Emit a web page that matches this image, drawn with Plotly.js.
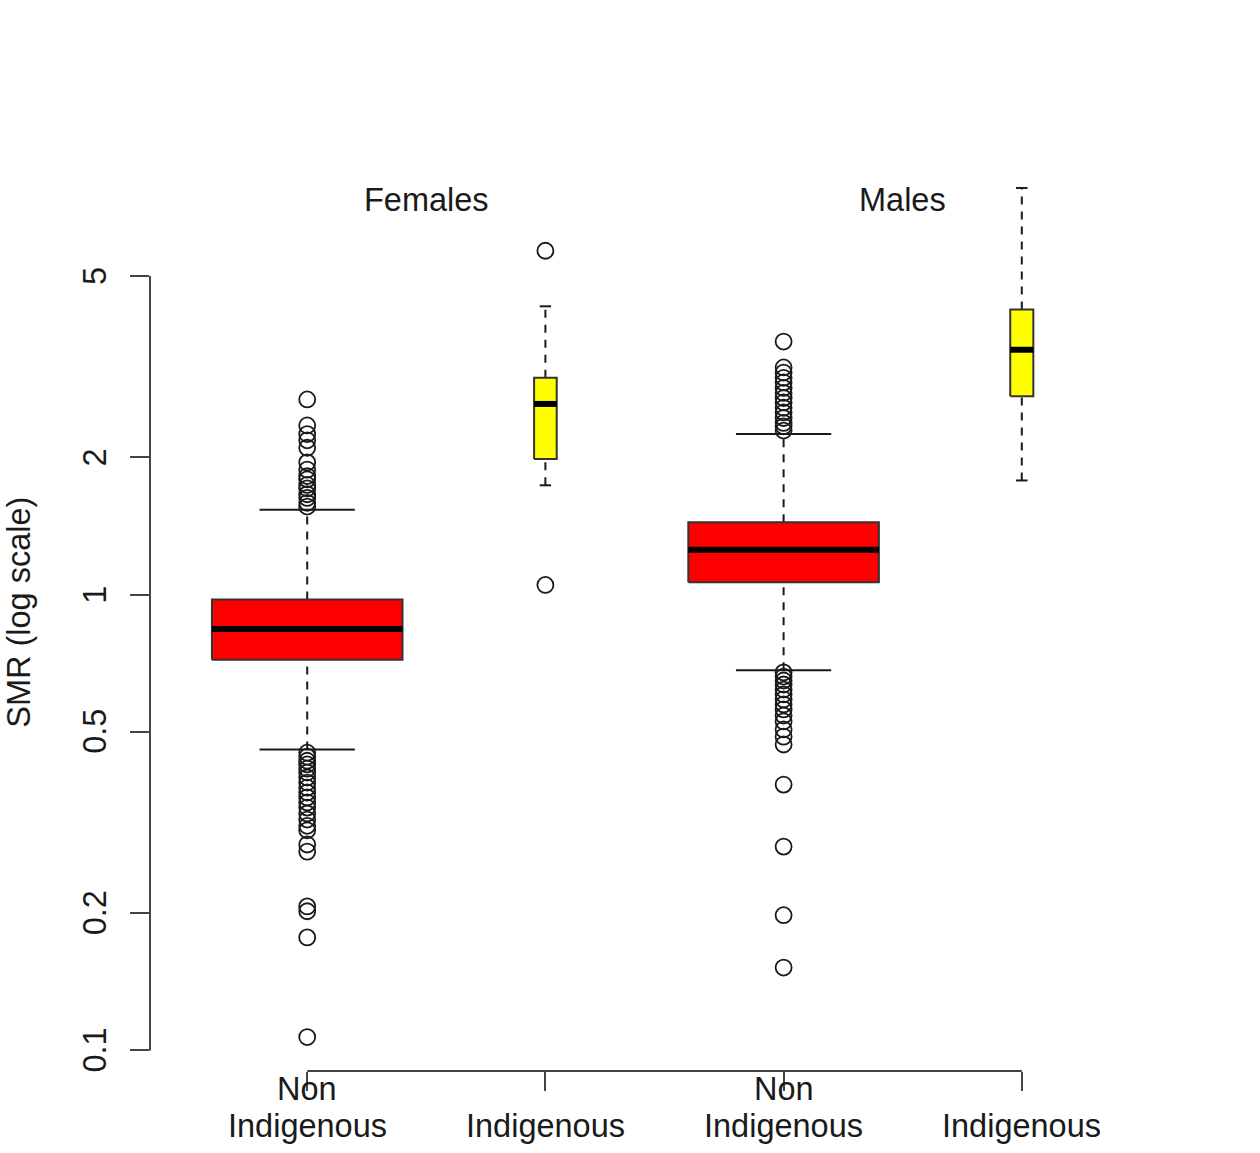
<!DOCTYPE html>
<html>
<head>
<meta charset="utf-8">
<script src="https://cdn.plot.ly/plotly-3.0.1.min.js"></script>
<style>
  html, body { margin: 0; padding: 0; background: #ffffff; }
  #chart { width: 1260px; height: 1153px; }
</style>
</head>
<body>
<div id="chart"></div>
<script>
// ---- data: SMR by sex and Indigenous status (log scale) ----
const groupTitles = ["Females", "Males"];
const categories = ["Non<br>Indigenous", "Indigenous", "Non<br>Indigenous", "Indigenous"];
const yTickValues = [0.1, 0.2, 0.5, 1, 2, 5];
const yTickLabels = ["0.1", "0.2", "0.5", "1", "2", "5"];

const lowerWhisker = [0.457, 1.737, 0.682, 1.78];
const lowerQuartile = [0.720, 1.984, 1.064, 2.722];
const medians = [0.841, 2.62, 1.255, 3.445];
const upperQuartile = [0.975, 2.99, 1.441, 4.22];
const upperWhisker = [1.536, 4.29, 2.252, 7.8];

const outliersFemaleNonIndigenous = [
  2.68, 2.35, 2.25, 2.18, 2.10, 1.95, 1.88, 1.82, 1.79, 1.74, 1.71, 1.66, 1.63, 1.59, 1.56,
  0.450, 0.441, 0.432, 0.424, 0.415, 0.407, 0.397, 0.387, 0.377, 0.368, 0.359, 0.350,
  0.341, 0.331, 0.321, 0.311, 0.304, 0.283, 0.273, 0.207, 0.202, 0.177, 0.107
];
const outliersFemaleIndigenous = [5.68, 1.05];
const outliersMaleNonIndigenous = [
  3.59, 3.15, 3.07, 2.99, 2.92, 2.84, 2.77, 2.70, 2.64, 2.57, 2.51, 2.44, 2.38, 2.34, 2.29,
  0.675, 0.661, 0.648, 0.635, 0.619, 0.604, 0.589, 0.574, 0.560, 0.543, 0.527, 0.506,
  0.488, 0.469, 0.383, 0.280, 0.198, 0.152
];
const outliersMaleIndigenous = [];

// ---- styling ----
const boxFill = ["#ff0000", "#ffff00", "#ff0000", "#ffff00"];
const boxWidths = [0.8, 0.095, 0.8, 0.097];   // varwidth-style box widths (x units)
const capRatio = 0.5;                          // staple width relative to box
const ink = "#1a1a1a";
const axisInk = "#444444";
const fontFamily = "'Liberation Sans', Arial, Helvetica, sans-serif";
const fontSize = 32.5;

const outlierSets = [outliersFemaleNonIndigenous, outliersFemaleIndigenous,
                     outliersMaleNonIndigenous, outliersMaleIndigenous];

const traces = [];
categories.forEach((cat, i) => {
  const p = i + 1;
  const hw = boxWidths[i] / 2;
  const cw = hw * capRatio;
  // dashed whiskers
  traces.push({
    type: "scatter", mode: "lines", hoverinfo: "skip", showlegend: false,
    x: [p, p, null, p, p],
    y: [lowerWhisker[i], lowerQuartile[i], null, upperQuartile[i], upperWhisker[i]],
    line: { color: ink, width: 2, dash: "8px,7px" }
  });
  // staples
  traces.push({
    type: "scatter", mode: "lines", hoverinfo: "skip", showlegend: false,
    x: [p - cw, p + cw, null, p - cw, p + cw],
    y: [lowerWhisker[i], lowerWhisker[i], null, upperWhisker[i], upperWhisker[i]],
    line: { color: ink, width: 2 }
  });
  // box
  traces.push({
    type: "scatter", mode: "lines", hoverinfo: "skip", showlegend: false,
    x: [p - hw, p + hw, p + hw, p - hw, p - hw],
    y: [lowerQuartile[i], lowerQuartile[i], upperQuartile[i], upperQuartile[i], lowerQuartile[i]],
    fill: "toself", fillcolor: boxFill[i],
    line: { color: "#333333", width: 2 }
  });
  // median
  traces.push({
    type: "scatter", mode: "lines", hoverinfo: "skip", showlegend: false,
    x: [p - hw, p + hw],
    y: [medians[i], medians[i]],
    line: { color: "#000000", width: 6 }
  });
  // outliers
  const out = outlierSets[i];
  if (out.length) {
    traces.push({
      type: "scatter", mode: "markers", hoverinfo: "y", showlegend: false,
      x: out.map(() => p), y: out,
      cliponaxis: false,
      marker: { symbol: "circle-open", size: 16, color: ink, line: { width: 1.8, color: ink } }
    });
  }
});

// y range: data extent widened by 4% on the log scale
const allVals = [].concat(lowerWhisker, upperWhisker, ...outlierSets);
const lo = Math.log10(Math.min(...allVals));
const hi = Math.log10(Math.max(...allVals));
const pad = (hi - lo) * 0.04;

const annotations = [];
groupTitles.forEach((t, g) => {
  annotations.push({
    text: t, xref: "x", yref: "paper", x: 2 * g + 1.5, y: 0.95,
    xanchor: "center", yanchor: "middle", showarrow: false,
    font: { family: fontFamily, size: fontSize, color: ink }
  });
});
// category labels: each line placed on its own row, last lines aligned
const lineRows = [-0.0818, -0.0414];
categories.forEach((c, i) => {
  const lines = c.split("<br>").reverse();
  lines.forEach((ln, k) => {
    annotations.push({
      text: ln, xref: "x", yref: "paper", x: i + 1, y: lineRows[k],
      xanchor: "center", yanchor: "bottom", showarrow: false,
      font: { family: fontFamily, size: fontSize, color: ink }
    });
  });
});
// y tick labels, parallel to the axis (annotation y on a log axis is log10)
yTickValues.forEach((v, k) => {
  annotations.push({
    text: yTickLabels[k], xref: "paper", yref: "y", x: -0.0534, y: Math.log10(v),
    xanchor: "center", yanchor: "middle", textangle: -90, showarrow: false,
    font: { family: fontFamily, size: fontSize, color: ink }
  });
});
annotations.push({
  text: "SMR (log scale)", xref: "paper", yref: "paper", x: -0.128, y: 0.5,
  xanchor: "center", yanchor: "middle", textangle: -90, showarrow: false,
  font: { family: fontFamily, size: fontSize, color: ink }
});

const layout = {
  width: 1260, height: 1153,
  margin: { l: 150, r: 81, t: 154, b: 82 },
  paper_bgcolor: "#ffffff", plot_bgcolor: "#ffffff",
  showlegend: false,
  font: { family: fontFamily, size: fontSize, color: ink },
  xaxis: {
    range: [0.34, categories.length + 0.66],
    tickvals: categories.map((c, i) => i + 1),
    showticklabels: false,
    ticks: "outside", ticklen: 19, tickwidth: 2, tickcolor: axisInk,
    showgrid: false, zeroline: false, showline: false
  },
  yaxis: {
    type: "log",
    range: [lo - pad, hi + pad],
    tickvals: yTickValues,
    showticklabels: false,
    ticks: "outside", ticklen: 19, tickwidth: 2, tickcolor: axisInk,
    showgrid: false, zeroline: false, showline: false
  },
  shapes: [
    { type: "line", xref: "paper", yref: "y", x0: 0, x1: 0,
      y0: yTickValues[0], y1: yTickValues[yTickValues.length - 1],
      line: { color: axisInk, width: 2 }, layer: "above" },
    { type: "line", xref: "x", yref: "paper", x0: 1, x1: categories.length, y0: 0, y1: 0,
      line: { color: axisInk, width: 2 }, layer: "above" }
  ],
  annotations: annotations
};

Plotly.newPlot("chart", traces, layout, { staticPlot: true, displayModeBar: false });
</script>
</body>
</html>
